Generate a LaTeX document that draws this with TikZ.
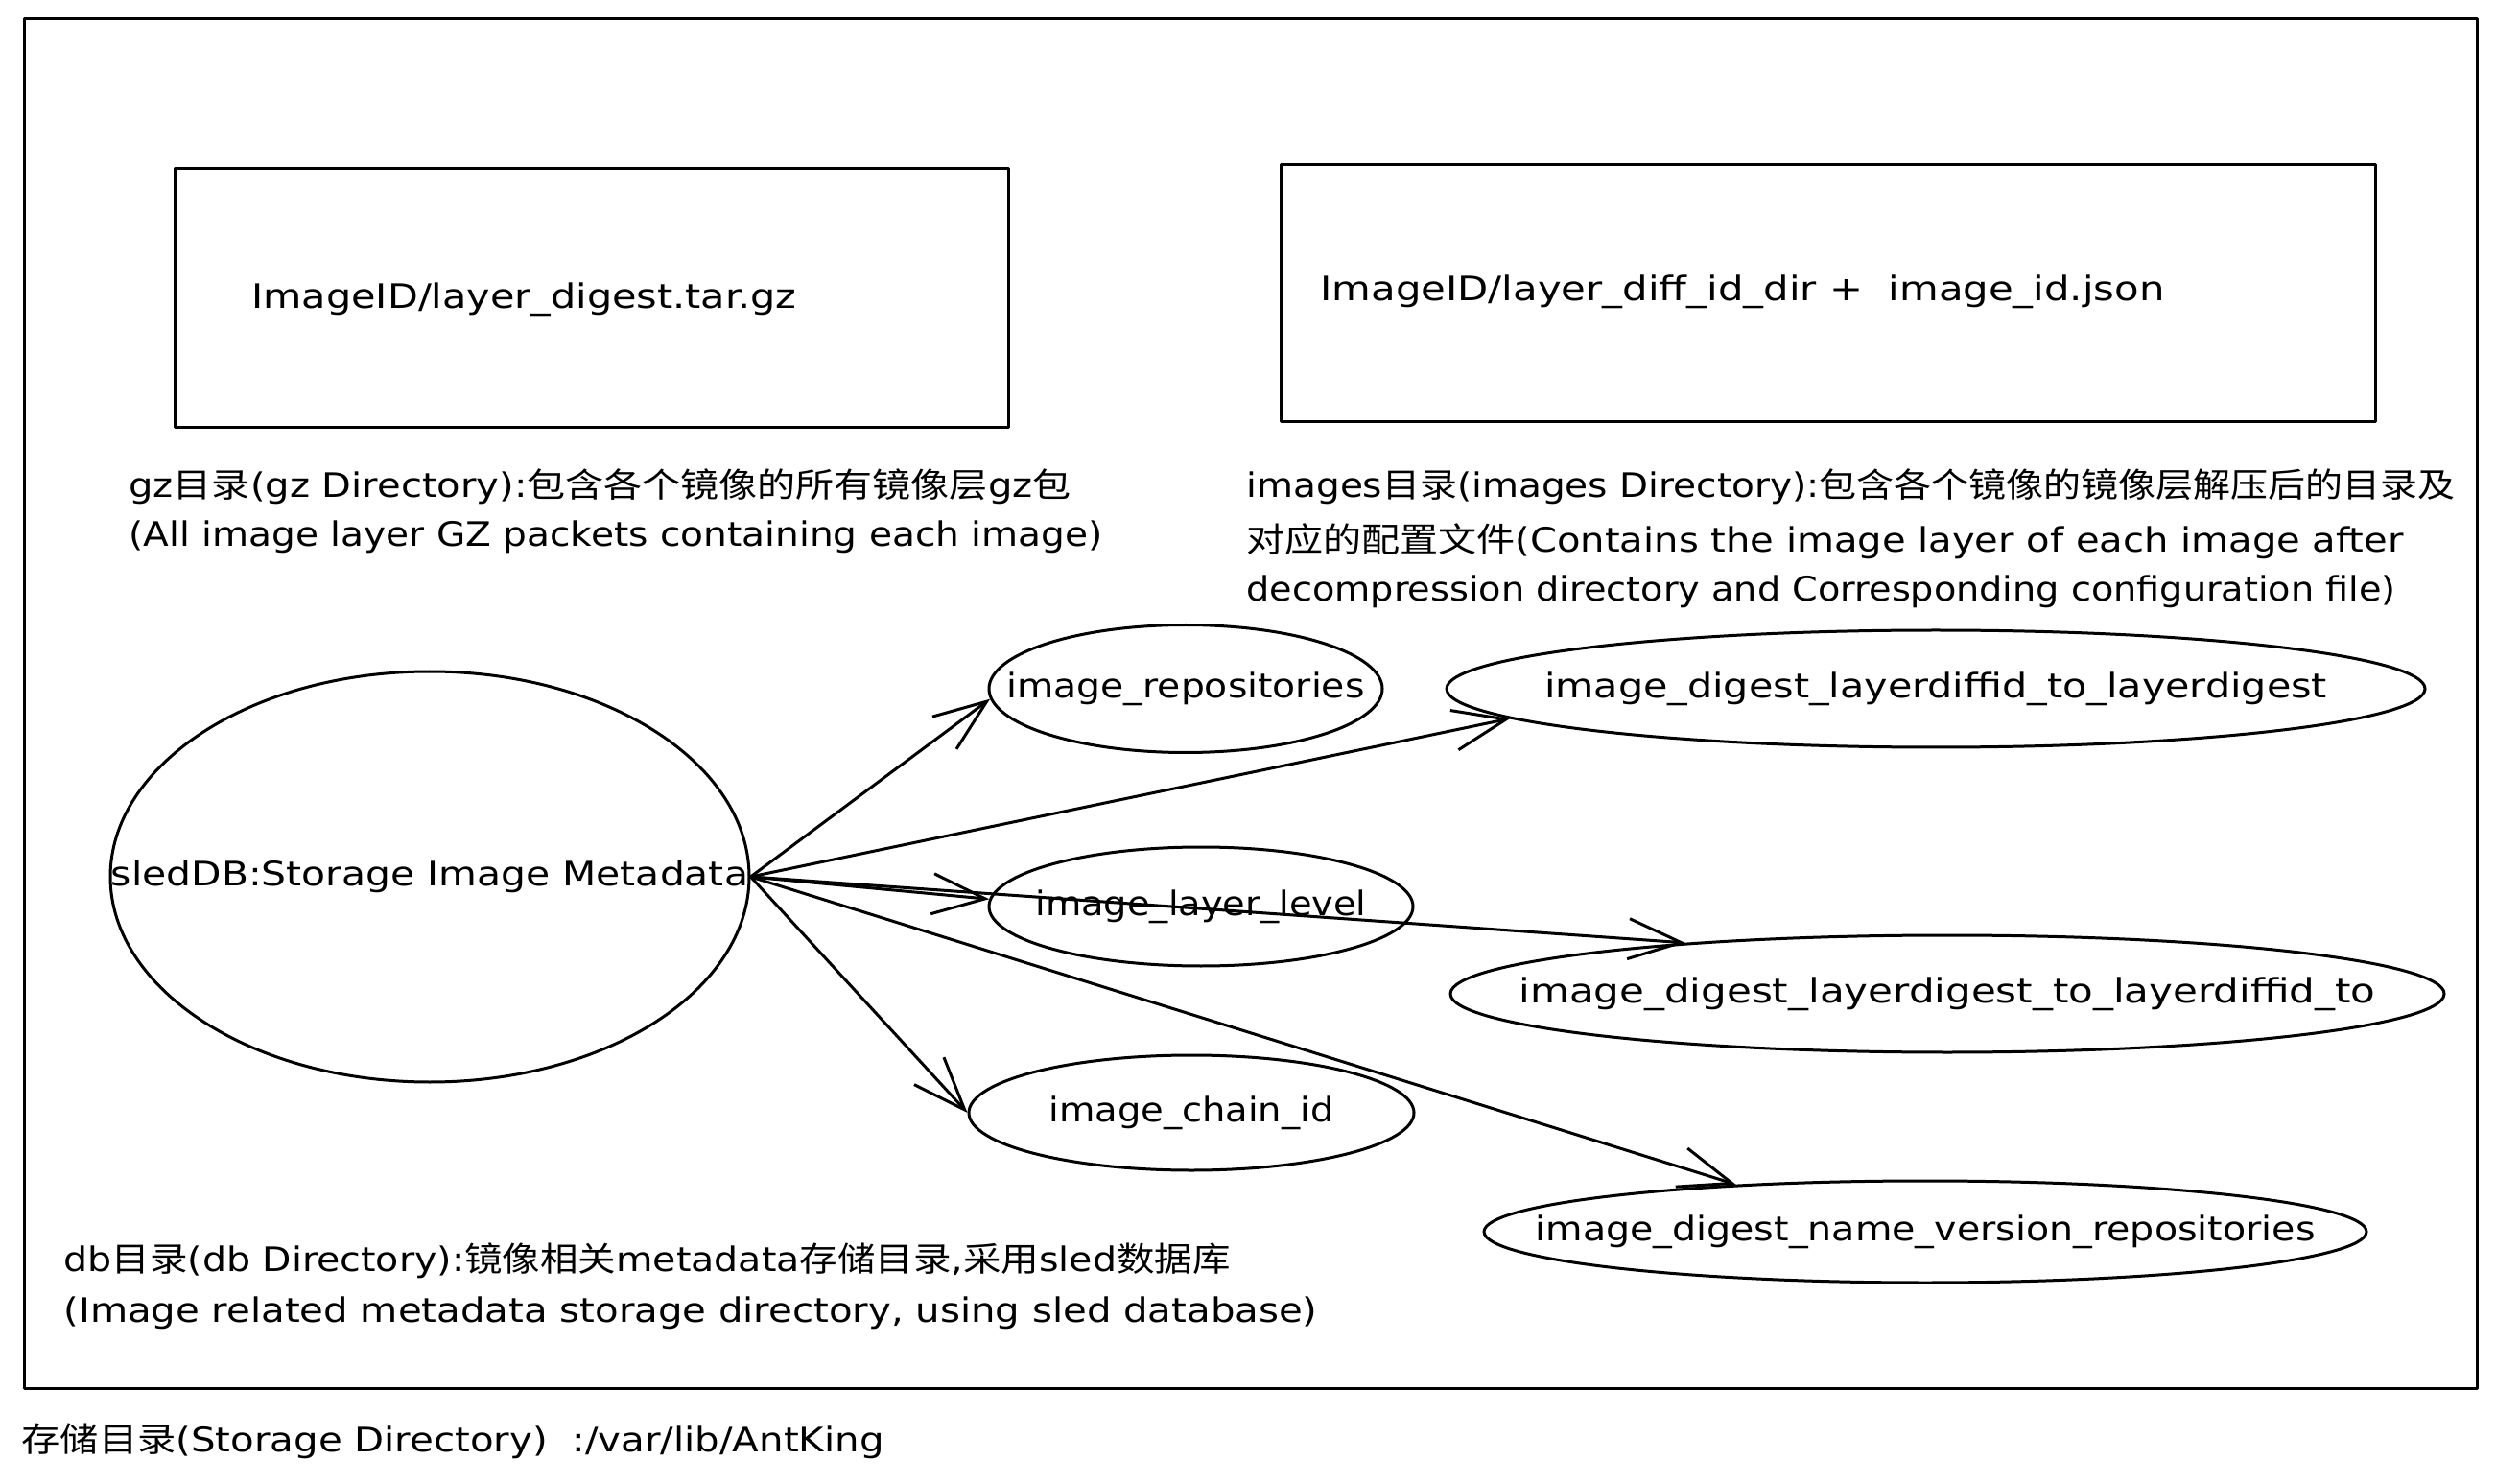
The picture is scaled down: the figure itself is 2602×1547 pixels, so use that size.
\documentclass[tikz,border=0pt]{standalone}
\usepackage{graphicx}
\usepackage{fontspec}
\setmainfont{DejaVu Sans}
\newfontfamily\cjk{Noto Sans CJK SC}
\usetikzlibrary{shapes.geometric,arrows.meta}
\newcommand\fitw[2]{\resizebox{#1}{\height}{#2}}
\begin{document}
\begin{tikzpicture}[x=0.1mm,y=-0.1mm,line width=0.3mm,line cap=round,line join=round,
  every node/.style={font=\fontsize{10pt}{12pt}\selectfont,inner sep=0pt},
  boxnode/.style={draw,rectangle},
  oval/.style={draw,ellipse,inner sep=0pt},
  lbl/.style={anchor=west},
  arr/.style={-{Straight Barb[length=5.5mm,width=4.2mm]}}]
\useasboundingbox (0,0) rectangle (2602,1547);
\fill[white] (0,0) rectangle (2602,1547);
% outer frame
\draw (25,20) rectangle (2582,1447);
% boxes
\node[boxnode,minimum width=86.9mm,minimum height=27mm] (b1) at (616.5,311) {};
\node[lbl] (t1) at (261,312) {\fitw{56.8mm}{ImageID/layer\_digest.tar.gz}};
\node[boxnode,minimum width=114.1mm,minimum height=26.8mm] (b2) at (1905.5,306) {};
\node[lbl] (t2) at (1375,304) {\fitw{88mm}{ImageID/layer\_diff\_id\_dir +\ \ image\_id.json}};
% captions
\node[lbl] (c1a) at (133,507) {\fitw{98.2mm}{gz{\cjk 目录}(gz Directory):{\cjk 包含各个镜像的所有镜像层}gz{\cjk 包}}};
\node[lbl] (c1b) at (133,560) {\fitw{101.5mm}{(All image layer GZ packets containing each image)}};
\node[lbl] (c2a) at (1298,507) {\fitw{126mm}{images{\cjk 目录}(images Directory):{\cjk 包含各个镜像的镜像层解压后的目录及}}};
\node[lbl] (c2b) at (1298,564) {\fitw{120.6mm}{{\cjk 对应的配置文件}(Contains the image layer of each image after}};
\node[lbl] (c2c) at (1298,617) {\fitw{119.8mm}{decompression directory and Corresponding configuration file)}};
\node[lbl] (c3a) at (65,1314) {\fitw{121.6mm}{db{\cjk 目录}(db Directory):{\cjk 镜像相关}metadata{\cjk 存储目录},{\cjk 采用}sled{\cjk 数据库}}};
\node[lbl] (c3b) at (65,1369) {\fitw{130.7mm}{(Image related metadata storage directory, using sled database)}};
\node[lbl] (foot) at (21,1502) {\fitw{89.9mm}{{\cjk 存储目录}(Storage Directory)\ \ :/var/lib/AntKing}};
% ellipses
\node[oval,minimum width=66.6mm,minimum height=42.8mm] (db) at (448,914) {\makebox[0pt]{\fitw{66.4mm}{sledDB:Storage Image Metadata}}};
\node[oval,minimum width=41mm,minimum height=13.3mm] (n1) at (1236,718) {\makebox[0pt]{\fitw{37.3mm}{image\_repositories}}};
\node[oval,minimum width=102mm,minimum height=12.2mm] (n2) at (2018,718) {\makebox[0pt]{\fitw{81.6mm}{image\_digest\_layerdiffid\_to\_layerdigest}}};
\node[oval,minimum width=44.2mm,minimum height=12.4mm] (n3) at (1252,945) {\makebox[0pt]{\fitw{34.5mm}{image\_layer\_level}}};
\node[oval,minimum width=103.6mm,minimum height=12.2mm] (n4) at (2030,1036) {\makebox[0pt]{\fitw{89.3mm}{image\_digest\_layerdigest\_to\_layerdiffid\_to}}};
\node[oval,minimum width=46.4mm,minimum height=12mm] (n5) at (1242,1160) {\makebox[0pt]{\fitw{29.7mm}{image\_chain\_id}}};
\node[oval,minimum width=92mm,minimum height=10.6mm] (n6) at (2007,1284) {\makebox[0pt]{\fitw{81.3mm}{image\_digest\_name\_version\_repositories}}};
% arrows
\draw[arr] (db.east) -- (n1.183);
\draw[arr] (db.east) -- (n2.184.7);
\draw[arr] (db.east) -- (n3.178);
\draw[arr] (db.east) -- (n4.169);
\draw[arr] (db.east) -- (n5.180);
\draw[arr] (db.east) -- (n6.166.6);
\end{tikzpicture}
\end{document}
